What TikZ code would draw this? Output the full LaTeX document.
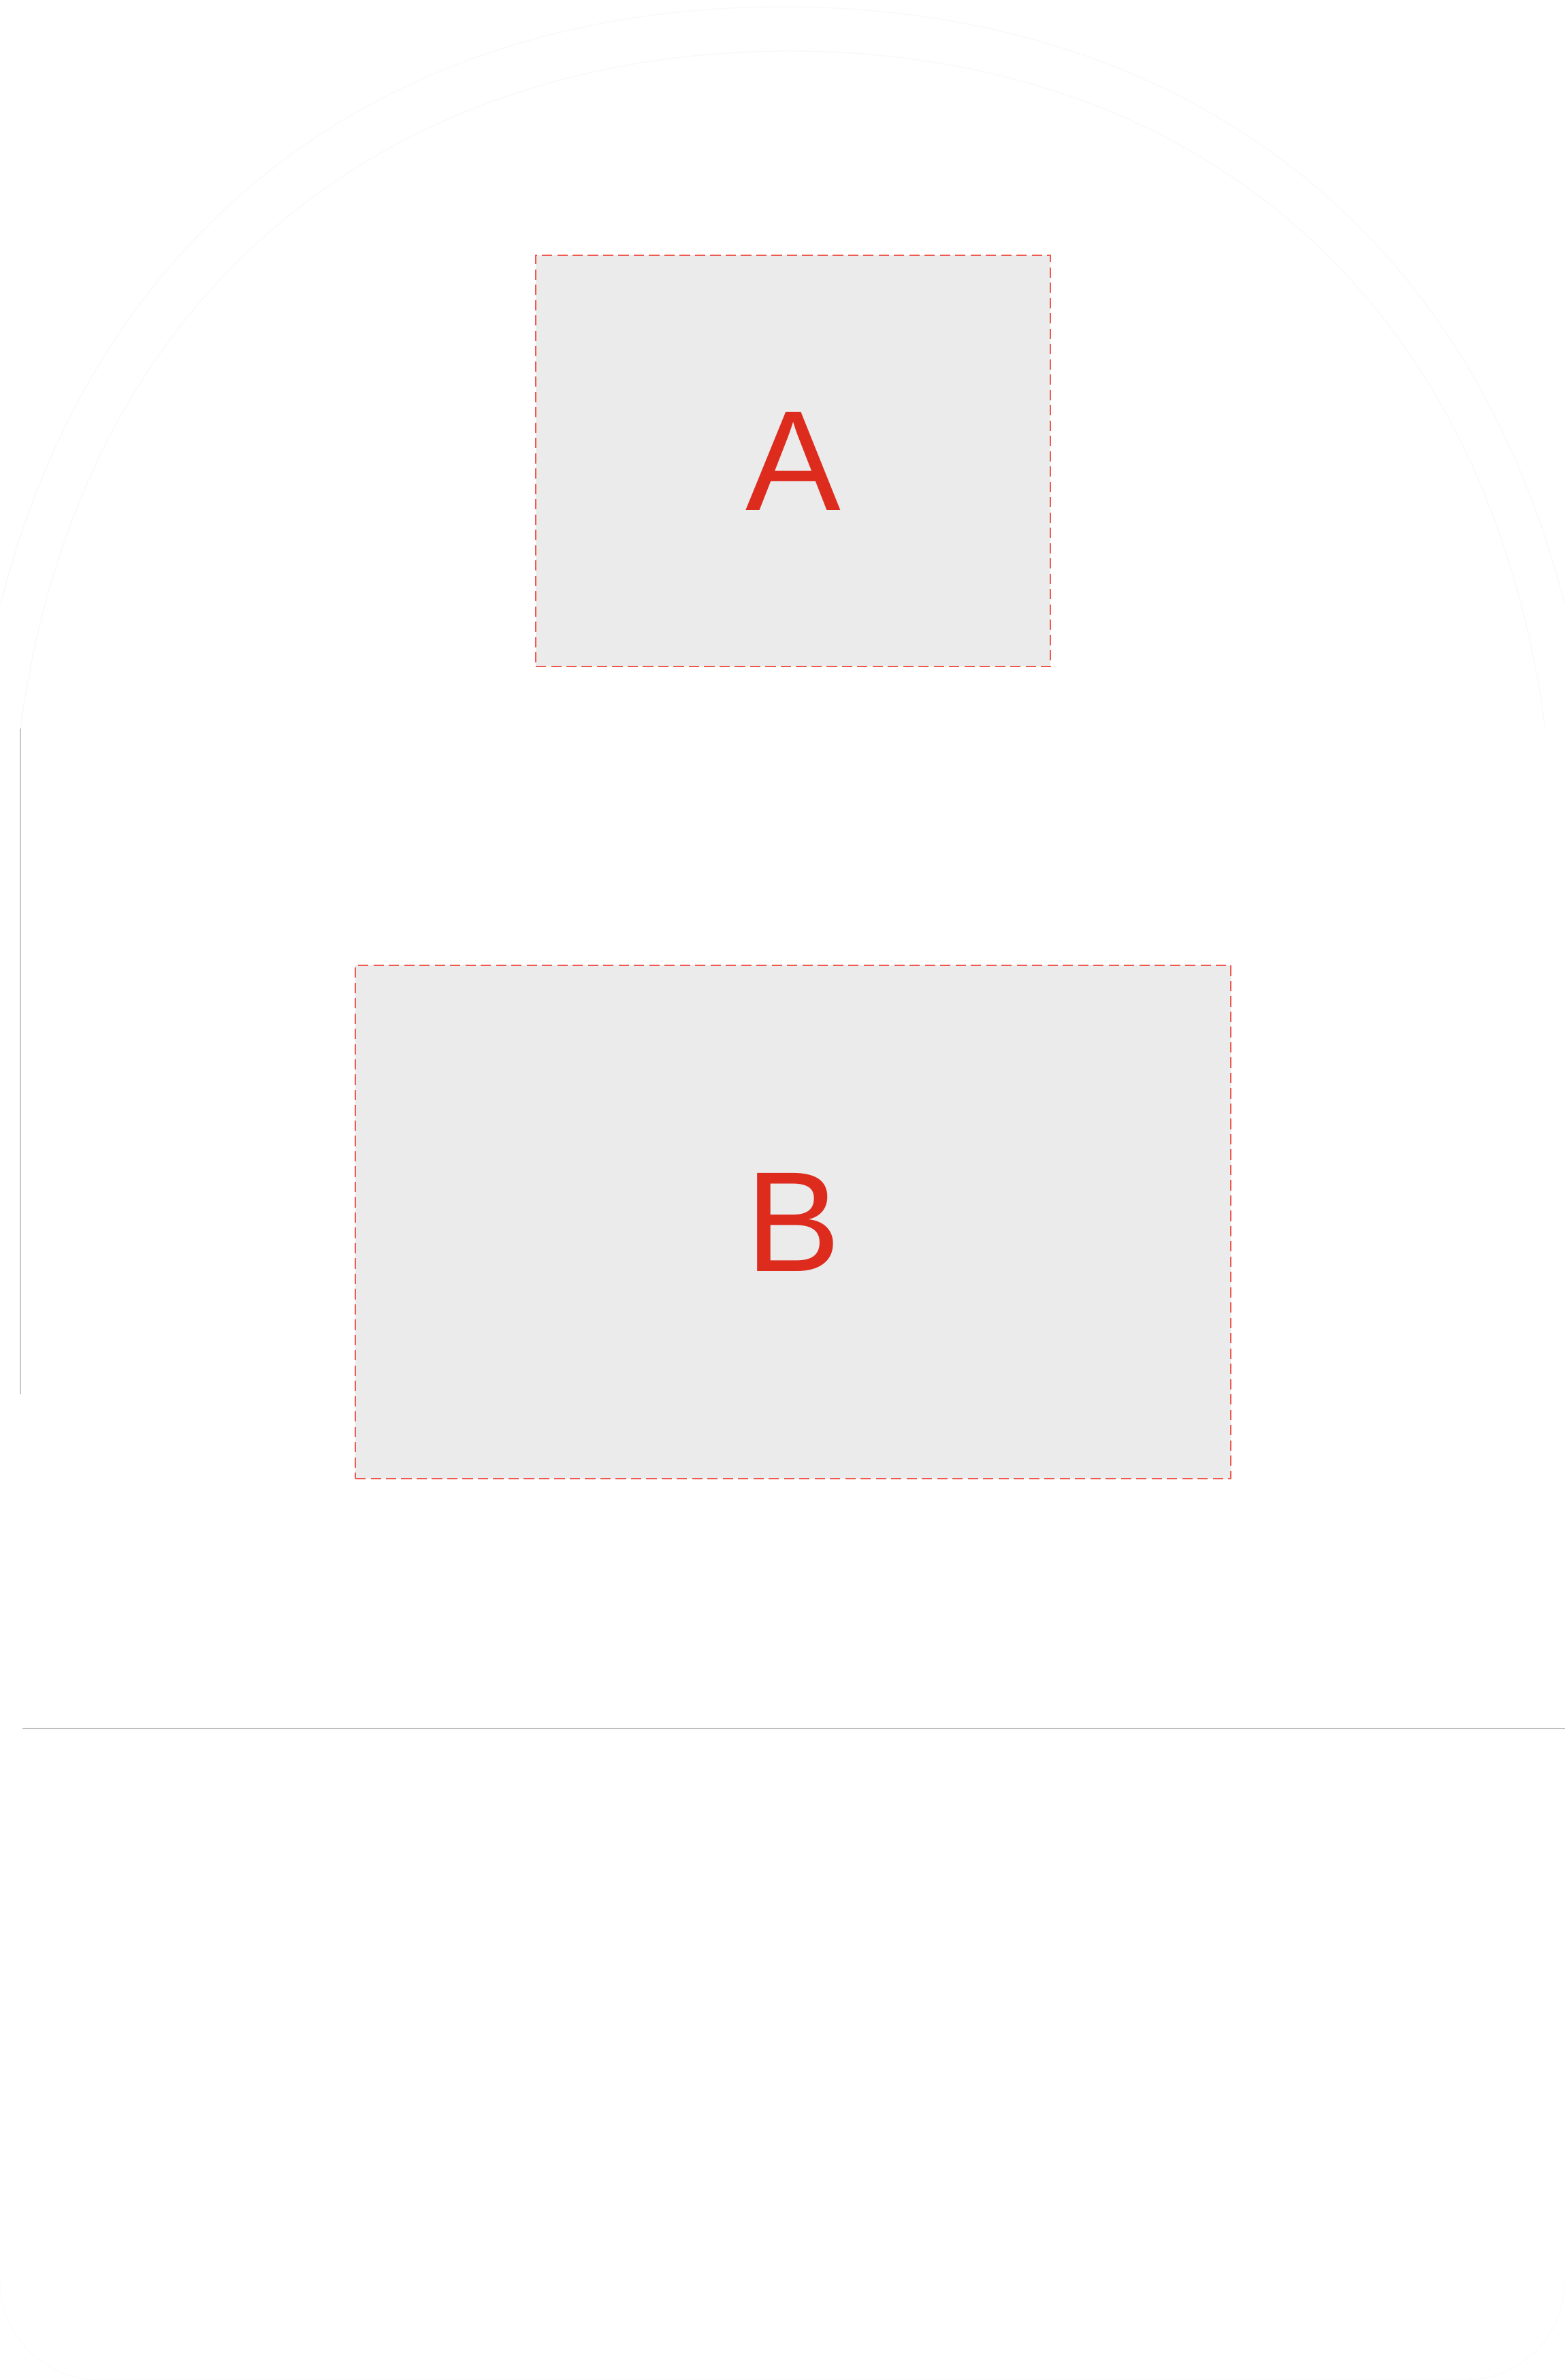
\documentclass[tikz,border=0pt]{standalone}
\usepackage{fontspec}
\setmainfont{Liberation Sans}
\usetikzlibrary{calc}
\definecolor{lbl}{HTML}{DD2C1E}
\definecolor{dsh}{HTML}{EE5A50}
\definecolor{pnl}{HTML}{EBEBEB}
\tikzset{panel/.style={draw=dsh,fill=pnl,dash pattern=on 4.3pt off 2.1pt,line width=.55pt,inner sep=0,outer sep=0,text=lbl,font=\fontsize{59.6}{60}\selectfont},
  faint/.style={draw=black!2.5,line width=.4pt}}

\begin{document}
\begin{tikzpicture}
\useasboundingbox(0,0)rectangle(22.99,-34.96);
% backdrop, barely visible
\draw[faint](0,-8.9).. controls (1.5,-3) and (6,-0.1) .. (11.5,-0.1).. controls (17,-0.1) and (21.5,-3) .. (22.99,-8.9);
\draw[faint](0.3,-10.7).. controls (1.2,-4) and (6,-0.75) .. (11.6,-0.75).. controls (17.2,-0.75) and (21.8,-4) .. (22.7,-10.7);
\draw[black!1.5,line width=.4pt](0,-33.5)arc(180:270:1.46)--(21.53,-34.96)arc(270:360:1.46);
\draw[gray!45,line width=.5pt](0.3,-10.7)--(0.3,-20.48);
\draw[gray!50,line width=.6pt](0.33,-25.39)--(22.99,-25.39);
\node[panel,minimum width=7.56cm,minimum height=6.04cm](a)at(11.65,-6.77){A};
\node[panel,minimum width=12.86cm,minimum height=7.54cm](b)at(11.65,-17.95){B};
\end{tikzpicture}
\end{document}
